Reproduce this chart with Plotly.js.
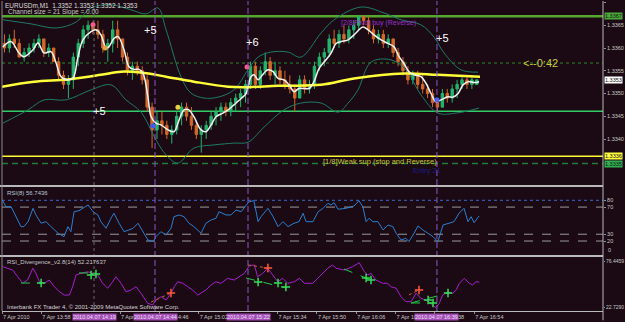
<!DOCTYPE html>
<html><head><meta charset="utf-8">
<script src="https://cdn.plot.ly/plotly-3.0.1.min.js"></script>
<style>html,body{margin:0;padding:0;background:#1b0a14;overflow:hidden}#chart{width:625px;height:322px;}</style>
</head><body><div id="chart"></div>
<script>
// ---- time axis (minutes after 13:42) ----
const timeTicks = [0,16,48,64,80,112,128,144,160,176,192];
const timeLabels = ['7 Apr 2010','7 Apr 13:58','7 Apr 14:30','7 Apr 14:46','7 Apr 15:02','7 Apr 15:34','7 Apr 15:50','7 Apr 16:06','7 Apr 16:22','7 Apr 16:38','7 Apr 16:54'];
const vlineTimes = [62.2, 100, 176.8];
const dotLineTime = 37.4;
const markTimes = [37.4, 62.2, 100, 176.8];
const markLabels = ['2010.04.07 14:19','2010.04.07 14:44','2010.04.07 15:22','2010.04.07 16:39'];

// ---- candles (2-minute steps) ----
const candleT = [1,3,5,7,9,11,13,15,17,19,21,23,25,27,29,31,33,35,37,39,41,43,45,47,49,51,53,55,57,59,61,63,65,67,69,71,73,75,77,79,81,83,85,87,89,91,93,95,97,99,101,103,105,107,109,111,113,115,117,119,121,123,125,127,129,131,133,135,137,139,141,143,145,147,149,151,153,155,157,159,161,163,165,167,169,171,173,175,177,179,181,183,185,187,189,191,193];
const openP  = [1.3361,1.3360,1.3362,1.3361,1.3358,1.3359,1.3360,1.3361,1.3362,1.3359,1.3360,1.3357,1.3354,1.3352,1.3353,1.3358,1.3361,1.3364,1.3365,1.3364,1.3363,1.3360,1.3361,1.3364,1.3362,1.3358,1.3355,1.3356,1.3355,1.3353,1.3347,1.3342,1.3344,1.3343,1.3341,1.3342,1.3345,1.3347,1.3345,1.3343,1.3341,1.3342,1.3343,1.3345,1.3346,1.3347,1.3346,1.3348,1.3349,1.3350,1.3352,1.3356,1.3352,1.3355,1.3357,1.3354,1.3355,1.3353,1.3352,1.3351,1.3349,1.3353,1.3351,1.3352,1.3356,1.3358,1.3359,1.3362,1.3361,1.3363,1.3362,1.3364,1.3365,1.3367,1.3366,1.3364,1.3362,1.3363,1.3361,1.3362,1.3359,1.3357,1.3355,1.3353,1.3354,1.3352,1.3351,1.3350,1.3348,1.3347,1.3350,1.3349,1.3351,1.3352,1.3353,1.3352,1.3352];
const highP  = [1.3363,1.3363,1.3364,1.3362,1.3360,1.3361,1.3362,1.3363,1.3362,1.3361,1.3360,1.3358,1.3355,1.3354,1.3359,1.3362,1.3365,1.3366,1.3366,1.3366,1.3364,1.3362,1.3366,1.3366,1.3362,1.3359,1.3357,1.3357,1.3356,1.3354,1.3348,1.3346,1.3346,1.3344,1.3343,1.3346,1.3348,1.3348,1.3347,1.3344,1.3343,1.3344,1.3346,1.3347,1.3348,1.3348,1.3349,1.3350,1.3351,1.3353,1.3357,1.3357,1.3356,1.3359,1.3358,1.3357,1.3356,1.3355,1.3354,1.3352,1.3354,1.3354,1.3353,1.3357,1.3359,1.3360,1.3363,1.3364,1.3364,1.3365,1.3365,1.3366,1.3367,1.3367,1.3367,1.3365,1.3364,1.3364,1.3363,1.3362,1.3360,1.3358,1.3356,1.3355,1.3355,1.3354,1.3352,1.3351,1.3349,1.3351,1.3351,1.3352,1.3353,1.3354,1.3354,1.3354,1.3353];
const lowP   = [1.3359,1.3359,1.3360,1.3358,1.3357,1.3358,1.3359,1.3360,1.3358,1.3358,1.3357,1.3353,1.3351,1.3349,1.3351,1.3356,1.3360,1.3362,1.3363,1.3362,1.3359,1.3357,1.3359,1.3360,1.3357,1.3354,1.3353,1.3354,1.3352,1.3346,1.3338,1.3340,1.3341,1.3340,1.3339,1.3341,1.3343,1.3344,1.3342,1.3340,1.3337,1.3340,1.3342,1.3343,1.3344,1.3345,1.3345,1.3346,1.3347,1.3348,1.3351,1.3351,1.3351,1.3354,1.3353,1.3352,1.3352,1.3351,1.3350,1.3346,1.3349,1.3350,1.3350,1.3351,1.3355,1.3356,1.3358,1.3360,1.3360,1.3361,1.3361,1.3362,1.3364,1.3365,1.3363,1.3361,1.3361,1.3360,1.3360,1.3358,1.3356,1.3354,1.3352,1.3352,1.3351,1.3350,1.3349,1.3347,1.3346,1.3347,1.3348,1.3348,1.3349,1.3351,1.3351,1.3351,1.3352];
const closeP = [1.3360,1.3362,1.3361,1.3358,1.3359,1.3360,1.3361,1.3362,1.3359,1.3360,1.3357,1.3354,1.3352,1.3353,1.3358,1.3361,1.3364,1.3365,1.3364,1.3363,1.3360,1.3361,1.3364,1.3362,1.3358,1.3355,1.3356,1.3355,1.3353,1.3347,1.3342,1.3344,1.3343,1.3341,1.3342,1.3345,1.3347,1.3345,1.3343,1.3341,1.3342,1.3343,1.3345,1.3346,1.3347,1.3346,1.3348,1.3349,1.3350,1.3352,1.3356,1.3352,1.3355,1.3357,1.3354,1.3355,1.3353,1.3352,1.3351,1.3349,1.3353,1.3351,1.3352,1.3356,1.3358,1.3359,1.3362,1.3361,1.3363,1.3362,1.3364,1.3365,1.3367,1.3366,1.3364,1.3362,1.3363,1.3361,1.3362,1.3359,1.3357,1.3355,1.3353,1.3354,1.3352,1.3351,1.3350,1.3348,1.3347,1.3350,1.3349,1.3351,1.3352,1.3353,1.3352,1.3353,1.3353];

// ---- smoothed white line ----
const whiteT = [0.3,3.7,6.9,8.9,12.6,14.6,17.1,19.9,22,24,26.8,28.9,30.9,32.9,36.2,38.2,40.2,42.3,43.5,45.5,47.2,49.6,51.6,53.7,55.7,57.3,59.3,60.6,62.6,64.6,67.5,69.9,72,74,76,78,80.9,82.9,85,87,89.8,91.9,94.3,97.2,99.2,101.2,102.4,104.1,105.3,108.1,110.2,112.2,114.6,116.7,118.7,120.7,122.8,124.8,126.8,128.9,131.7,133.7,135.8,137.8,140.7,143.1,146.7,148.8,151.2,154.1,156.9,159.3,161.4,163.4,165.4,167.5,170.3,172.4,174.4,176.4,178.5,181.3,183.3,185.4,187.4,189.4,191.9,193.9];
const whiteV = [1.33602,1.33614,1.33589,1.33581,1.33596,1.33611,1.33589,1.33592,1.33567,1.33537,1.33530,1.33534,1.33581,1.33618,1.33636,1.33640,1.33629,1.33600,1.33603,1.33621,1.33625,1.33596,1.33559,1.33553,1.33553,1.33545,1.33493,1.33449,1.33435,1.33431,1.33420,1.33416,1.33442,1.33464,1.33464,1.33449,1.33420,1.33416,1.33431,1.33449,1.33457,1.33464,1.33475,1.33489,1.33500,1.33537,1.33541,1.33530,1.33537,1.33552,1.33548,1.33533,1.33530,1.33519,1.33504,1.33511,1.33511,1.33511,1.33526,1.33555,1.33574,1.33588,1.33610,1.33614,1.33618,1.33629,1.33646,1.33640,1.33629,1.33618,1.33610,1.33603,1.33581,1.33566,1.33548,1.33541,1.33537,1.33522,1.33500,1.33482,1.33486,1.33493,1.33492,1.33500,1.33519,1.33526,1.33524,1.33526];

// ---- slow yellow average ----
const maT = [0,13,26.8,40.2,48.4,56.5,66.7,78,91.9,100,112.2,129.7,143.1,163.4,177.2,194.3];
const maV = [1.33515,1.33526,1.33531,1.33541,1.33548,1.33546,1.33537,1.33526,1.33515,1.33514,1.33517,1.33519,1.33533,1.33544,1.33541,1.33537];

// ---- channel bands ----
const upT = [0.4,11.8,22,30.1,36.2,44.3,52.4,58.5,63.4,66.7,72.8,76.8,82.1,87.8,94.3,100,104.1,109.3,116.3,121.5,129.7,135,145.9,155.3,162.2,170.3,175.6,179.7,186.6,193.5];
const upV = [1.33662,1.33653,1.33644,1.33657,1.33688,1.33695,1.33684,1.33675,1.33688,1.33640,1.33536,1.33501,1.33490,1.33492,1.33508,1.33552,1.33580,1.33591,1.33591,1.33580,1.33633,1.33662,1.33690,1.33677,1.33662,1.33651,1.33624,1.33589,1.33552,1.33547];
const loT = [0.4,10.6,17.1,26,36.2,44.3,50.4,56.5,62.6,66.7,71.5,78,86.2,94.3,100,106.5,114.6,121.5,129.7,136.6,140.7,144.7,150,158.1,164.2,170.3,177.2,184.6,193.9];
const loV = [1.33435,1.33464,1.33486,1.33486,1.33508,1.33519,1.33486,1.33459,1.33398,1.33365,1.33347,1.33380,1.33387,1.33391,1.33393,1.33426,1.33464,1.33479,1.33479,1.33459,1.33479,1.33508,1.33569,1.33574,1.33552,1.33497,1.33457,1.33457,1.33468];

// ---- horizontal price levels ----
const levelPrices = [1.3367, 1.33567, 1.33461, 1.33362, 1.33346];
const priceTicks = [1.3370,1.3365,1.3360,1.3355,1.3350,1.3345,1.3340];
const priceTickText = ['1.3370','1.3365','1.3360','1.3355','1.3350','1.3345','1.3340'];
const boxPrices = [1.3367, 1.3353, 1.33362, 1.33346];
const boxTexts = ['1.3367','1.3353','1.3336','1.3335'];

// ---- signal dots on price ----
const dotT = [37, 99.6, 41.9, 71.5, 61.4, 176.8];
const dotV = [1.33651, 1.33558, 1.33600, 1.33470, 1.33429, 1.33486];

// ---- RSI(8) ----
const rsiT = [0.3,1.6,3.7,5.7,7.7,8.9,10.6,12.6,13.8,15.9,17.9,19.9,22.8,25.2,26.8,28,29.3,31.3,35,37,39,40.2,42.3,44.3,45.5,47.6,49.6,51.6,53.3,55.3,57.3,59.3,61.4,62.6,64.6,66.7,68.7,69.9,72,74,76,78,80.9,82.9,85,87,88.2,91.1,93.1,95.1,97.2,99.2,100.4,102.4,104.1,105.3,108.1,110.2,112.2,114.2,116.3,118.7,120.7,122.4,123.6,126.4,128.5,130.5,132.5,133.7,135,136.6,139.8,143.1,145.1,146.7,148,149.2,150.8,152.8,154.9,156.9,158.9,160.2,162.2,164.2,165.4,167.5,169.1,171.1,173.2,175.2,177.2,179.3,181.7,183.7,185.8,187.8,189.4,190.7,191.9,193.9];
const rsiV = [79.4,70.6,70.6,55.9,41.2,41.2,48.5,68.2,58.4,46.2,48.5,41.2,31.5,26.5,41.2,33.8,63.2,64.7,73.1,63.2,58.4,48.5,38.8,53.5,60.9,46.2,33.8,36.3,38.8,46.2,33.8,21.6,19.1,26.5,33.8,29,38.8,55.9,58.4,55.9,46.2,41.2,31.5,46.2,51,53.5,63.2,58.4,58.4,65.7,63.2,73.1,77.9,79.4,48.5,55.9,68.2,55.9,41.2,48.5,41.2,46.2,48.5,60.9,48.5,48.5,63.2,68.2,75.6,73.1,76.5,66.8,68.2,71.6,79.4,70.6,48.5,53.5,48.5,48.5,36.3,43.7,41.2,31.5,21.6,24.1,19.1,31.5,42.2,36.3,31.5,26.5,19.1,43.7,46.2,48.5,60.9,68.2,48.5,55.9,47,56.74];
const rsiLevels = [80,70,30,20];

// ---- RSI divergence ----
const divT = [0.3,2.3,4.3,6.4,8.4,10.4,12.5,13.8,15.2,17.2,19.2,21.3,23.3,25.3,27.4,28.7,30.1,32.1,34.8,36.9,38.9,40.9,43,45,46.3,48.4,50.4,52.4,54.5,56.5,59.2,61.3,62.6,64.6,66.7,68.7,70,71.4,73.5,75.5,77.5,79.6,80.9,82.9,85,87,89,91.7,94.4,96.5,98.5,100.5,102.6,103.9,106,108,110,112.1,114.1,116.1,118.8,120.9,122.9,126.3,128.3,130.4,132.4,134.4,135.8,139.1,142.6,145.2,147.3,148.7,150,152,154.8,156.8,158.1,160.2,162.2,164.2,166.3,168.3,170.3,172.4,175.1,176.4,177.8,179.1,181.2,183.2,184.6,185.9,187.9,190,191.3,192.7,194];
const divV = [69.9,68.1,66.1,58.4,50.8,54.6,68.1,62.3,52.6,50.8,54.6,46.9,41.1,37.3,37.3,46.9,60.4,62.3,64.1,62.3,60.4,50.8,45.1,52.6,58.4,50.8,41.1,43.1,46.9,39.3,27.8,25.9,31.6,35.4,31.6,39.3,46.9,52.6,50.8,46.9,43.1,37.3,39.3,43.1,48.9,52.6,50.8,56.5,54.6,58.4,62.3,70.7,71.9,58.4,62.3,68.1,60.4,52.6,56.5,50.8,52.6,56.5,50.8,50.8,56.5,62.3,68.1,71.9,68.1,66.1,69.9,74.5,64.1,60.4,62.3,54.6,50.8,50.8,46.9,45.1,35.4,29.7,29.7,39.3,33.5,31.6,25.9,22.8,27.8,37.3,41.1,39.3,43.1,50.8,56.5,50.8,48.9,52.6,52.2];
const divTicks = [76.4459, 22.7290];
const divTickText = ['76.4459','22.7290'];
const bullSegT = [[7.7,15.9],[31.3,38.2],[99.2,115.4],[139,150],[166.3,181.3],[166.3,175.2]];
const bullSegV = [[51.1,51.1],[62.7,62.7],[56.9,45.4],[67.2,54.6],[28.2,39.6],[28.2,28.2]];
const bearSegT = [[60.6,68.7],[100,108.1],[165.4,169.5]];
const bearSegV = [[29.3,39.6],[71.9,68.4],[37.4,43.1]];
const bullArrowT = [15.9,36.2,38.2,104.1,112.2,115.4,148,150,173.2,175.2,181.3];
const bullArrowV = [51.1,60.3,61.5,52.3,51.1,46.5,56.9,54.6,31.6,28.2,39.6];
const bearArrowT = [68.7,108.1,169.5];
const bearArrowV = [39.6,68.4,43.1];

// ================= build =================
const FONT = 'Liberation Sans, Arial, sans-serif';
const BG = '#1b0a14';
const traces = [];
traces.push({type:'scatter',mode:'lines',x:upT,y:upV,line:{color:'#1e7a66',width:1,shape:'spline'},xaxis:'x',yaxis:'y',hoverinfo:'skip'});
traces.push({type:'scatter',mode:'lines',x:loT,y:loV,line:{color:'#1e7a66',width:1,shape:'spline'},xaxis:'x',yaxis:'y',hoverinfo:'skip'});
traces.push({type:'scatter',mode:'lines',x:maT,y:maV,line:{color:'#ffff3a',width:2.5,shape:'spline'},xaxis:'x',yaxis:'y',hoverinfo:'skip'});
traces.push({type:'candlestick',x:candleT,open:openP,high:highP,low:lowP,close:closeP,xaxis:'x',yaxis:'y',
  increasing:{line:{color:'#25b46c',width:1},fillcolor:'#25b46c'},
  decreasing:{line:{color:'#d0692a',width:1},fillcolor:'#d0692a'},whiskerwidth:0,hoverinfo:'skip'});
traces.push({type:'scatter',mode:'lines',x:whiteT,y:whiteV,line:{color:'#f2f2f2',width:1.5,shape:'spline'},xaxis:'x',yaxis:'y',hoverinfo:'skip'});
traces.push({type:'scatter',mode:'markers',x:dotT,y:dotV,marker:{size:5,color:['#ff5a8a','#ff5a8a','#e8a040','#e8d040','#3a5cff','#3a5cff']},xaxis:'x',yaxis:'y',hoverinfo:'skip'});
traces.push({type:'scatter',mode:'lines',x:rsiT,y:rsiV,line:{color:'#2b7fd0',width:1},xaxis:'x',yaxis:'y2',hoverinfo:'skip'});
traces.push({type:'scatter',mode:'lines',x:divT,y:divV,line:{color:'#a51fcc',width:1},xaxis:'x',yaxis:'y3',hoverinfo:'skip'});
bullSegT.forEach((t,i)=>traces.push({type:'scatter',mode:'lines',x:t,y:bullSegV[i],line:{color:'#22cc44',width:1,dash:'dash'},xaxis:'x',yaxis:'y3',hoverinfo:'skip'}));
bearSegT.forEach((t,i)=>traces.push({type:'scatter',mode:'lines',x:t,y:bearSegV[i],line:{color:'#d06030',width:1,dash:'dot'},xaxis:'x',yaxis:'y3',hoverinfo:'skip'}));
traces.push({type:'scatter',mode:'markers',x:bullArrowT,y:bullArrowV,marker:{symbol:'cross-thin',size:6,color:'#33dd55',line:{color:'#33dd55',width:1.5}},xaxis:'x',yaxis:'y3',hoverinfo:'skip'});
traces.push({type:'scatter',mode:'markers',x:bearArrowT,y:bearArrowV,marker:{symbol:'cross-thin',size:6,color:'#ff5a3a',line:{color:'#ff5a3a',width:1.5}},xaxis:'x',yaxis:'y3',hoverinfo:'skip'});

const levelStyles = [
  {color:'#56a630',width:2.5,dash:'solid'},
  {color:'#2a8a2a',width:1,dash:'dot'},
  {color:'#33cc66',width:1.5,dash:'solid'},
  {color:'#ffff33',width:1.5,dash:'solid'},
  {color:'#1f7a3c',width:1.5,dash:'6px,4px'}
];
const shapes = [];
levelPrices.forEach((p,i)=>shapes.push({type:'line',xref:'paper',x0:0,x1:1,yref:'y',y0:p,y1:p,line:levelStyles[i],layer:'below'}));
const rsiLevelStyles = [{color:'#3a68c8',dash:'dot'},{color:'#9a9a9a',dash:'dash'},{color:'#9a9a9a',dash:'dash'},{color:'#9a9a9a',dash:'dash'}];
rsiLevels.forEach((v,i)=>shapes.push({type:'line',xref:'paper',x0:0,x1:1,yref:'y2',y0:v,y1:v,line:{color:rsiLevelStyles[i].color,width:1,dash:rsiLevelStyles[i].dash},layer:'below'}));
vlineTimes.forEach(t=>shapes.push({type:'line',xref:'x',x0:t,x1:t,yref:'paper',y0:0,y1:1,line:{color:'#8e55c8',width:1,dash:'6px,3px'}}));
shapes.push({type:'line',xref:'x',x0:dotLineTime,x1:dotLineTime,yref:'paper',y0:0,y1:1,line:{color:'#6a6a6a',width:1,dash:'dot'}});
// panel separators and frame
shapes.push({type:'line',xref:'paper',x0:-0.01,x1:1,yref:'paper',y0:0.40323,y1:0.40323,line:{color:'#b8b8b8',width:2}});
shapes.push({type:'line',xref:'paper',x0:-0.01,x1:1,yref:'paper',y0:0.17742,y1:0.17742,line:{color:'#b8b8b8',width:2}});
shapes.push({type:'line',xref:'paper',x0:1,x1:1,yref:'paper',y0:-0.03,y1:1,line:{color:'#b8b8b8',width:1}});
shapes.push({type:'line',xref:'paper',x0:0,x1:0,yref:'paper',y0:0,y1:1,line:{color:'#8a8a8a',width:1}});

const annotations = [];
const txt = (o)=>annotations.push(Object.assign({showarrow:false},o));
txt({xref:'paper',yref:'paper',x:0.002,y:0.987,xanchor:'left',yanchor:'middle',text:'EURUSDm,M1  1.3352 1.3353 1.3352 1.3353',font:{family:FONT,size:6.5,color:'#dcdcdc'}});
txt({xref:'paper',yref:'paper',x:0.006,y:0.964,xanchor:'left',yanchor:'middle',text:'Channel size = 21 Slope = 0.00',font:{family:FONT,size:6.5,color:'#c8c8c8'}});
txt({xref:'x',yref:'y',x:60.2,y:1.33640,text:'+5',font:{family:FONT,size:11,color:'#ffffff'}});
txt({xref:'x',yref:'y',x:102,y:1.33613,text:'+6',font:{family:FONT,size:11,color:'#ffffff'}});
txt({xref:'x',yref:'y',x:178.9,y:1.33622,text:'+5',font:{family:FONT,size:11,color:'#ffffff'}});
txt({xref:'x',yref:'y',x:39.8,y:1.33462,text:'+5',font:{family:FONT,size:11,color:'#ffffff'}});
txt({xref:'x',yref:'y',x:218.7,y:1.33567,text:'<--0:42',font:{family:FONT,size:11,color:'#c8c83c'}});
txt({xref:'x',yref:'y',x:137,y:1.33656,xanchor:'left',text:'[2/8]Pivot buy (Reverse)',font:{family:FONT,size:7,color:'#9a32c8'}});
txt({xref:'x',yref:'y',x:129.7,y:1.33351,xanchor:'left',text:'[1/8]Weak sup (stop and Reverse)',font:{family:FONT,size:7.5,color:'#c8c832'}});
txt({xref:'x',yref:'y',x:166.3,y:1.33330,xanchor:'left',text:'Entry 21',font:{family:FONT,size:7.5,color:'#1c1c8a'}});
txt({xref:'paper',yref:'paper',x:0.005,y:0.3806,xanchor:'left',yanchor:'middle',text:'RSI(8) 56.7436',font:{family:FONT,size:6,color:'#b8c8d8'}});
txt({xref:'paper',yref:'paper',x:0.005,y:0.158,xanchor:'left',yanchor:'middle',text:'RSI_Divergence_v2.8(14) 52.217637',font:{family:FONT,size:6,color:'#c8c8c8'}});
txt({xref:'paper',yref:'paper',x:0.005,y:0.0129,xanchor:'left',yanchor:'middle',text:'Interbank FX Trader 4, © 2001-2009 MetaQuotes Software Corp.',font:{family:FONT,size:6,color:'#d4d4d4'}});
// RSI 100 / 0 labels
txt({xref:'paper',yref:'y2',x:1,xanchor:'left',xshift:3,y:100,yanchor:'top',text:'100',font:{family:FONT,size:5.5,color:'#c8c8c8'}});
txt({xref:'paper',yref:'y2',x:1,xanchor:'left',xshift:3,y:0,yanchor:'bottom',text:'0',font:{family:FONT,size:5.5,color:'#c8c8c8'}});
// right side coloured price boxes
const boxBg = ['#4aa83a','#ffffff','#ffff40','#30b050'];
boxPrices.forEach((p,i)=>txt({xref:'paper',yref:'y',x:1,xanchor:'left',xshift:1,y:p,yanchor:'middle',text:boxTexts[i],bgcolor:boxBg[i],borderpad:0,font:{family:FONT,size:5.5,color:'#101010'}}));
// vertical-line time labels
markTimes.forEach((t,i)=>txt({xref:'x',yref:'paper',x:t,y:-0.019,yanchor:'middle',text:markLabels[i],bgcolor:'#a44cb8',borderpad:0,font:{family:FONT,size:5.5,color:'#f0e4f4'}}));

const axFont = {family:FONT,size:5.5,color:'#c8c8c8'};
const layout = {
  width:625,height:322,margin:{l:2,r:22,t:1,b:11},
  paper_bgcolor:BG,plot_bgcolor:BG,showlegend:false,
  xaxis:{domain:[0,1],range:[0,244.3],anchor:'y3',tickvals:timeTicks,ticktext:timeLabels,ticklabelposition:'outside right',
    tickfont:axFont,ticks:'outside',ticklen:2,tickcolor:'#909090',showgrid:false,zeroline:false,showline:true,linecolor:'#b8b8b8',linewidth:1,
    rangeslider:{visible:false},automargin:false,fixedrange:true},
  yaxis:{domain:[0.40645,1],range:[1.332989,1.337033],side:'right',anchor:'x',tickvals:priceTicks,ticktext:priceTickText,tickfont:axFont,
    ticks:'outside',ticklen:2,tickcolor:'#909090',showgrid:false,zeroline:false,automargin:false,fixedrange:true},
  yaxis2:{domain:[0.18065,0.4],range:[-0.6,99.6],side:'right',anchor:'x',tickvals:rsiLevels,ticktext:rsiLevels.map(String),tickfont:axFont,
    ticks:'outside',ticklen:2,tickcolor:'#909090',showgrid:false,zeroline:false,automargin:false,fixedrange:true},
  yaxis3:{domain:[0,0.17419],range:[18.95,81.05],side:'right',anchor:'x',tickvals:divTicks,ticktext:divTickText,tickfont:{family:FONT,size:5,color:'#c8c8c8'},
    ticks:'outside',ticklen:1,tickcolor:'#909090',showgrid:false,zeroline:false,automargin:false,fixedrange:true},
  shapes:shapes,annotations:annotations
};
Plotly.newPlot('chart',traces,layout,{staticPlot:true,displayModeBar:false});
</script></body></html>
